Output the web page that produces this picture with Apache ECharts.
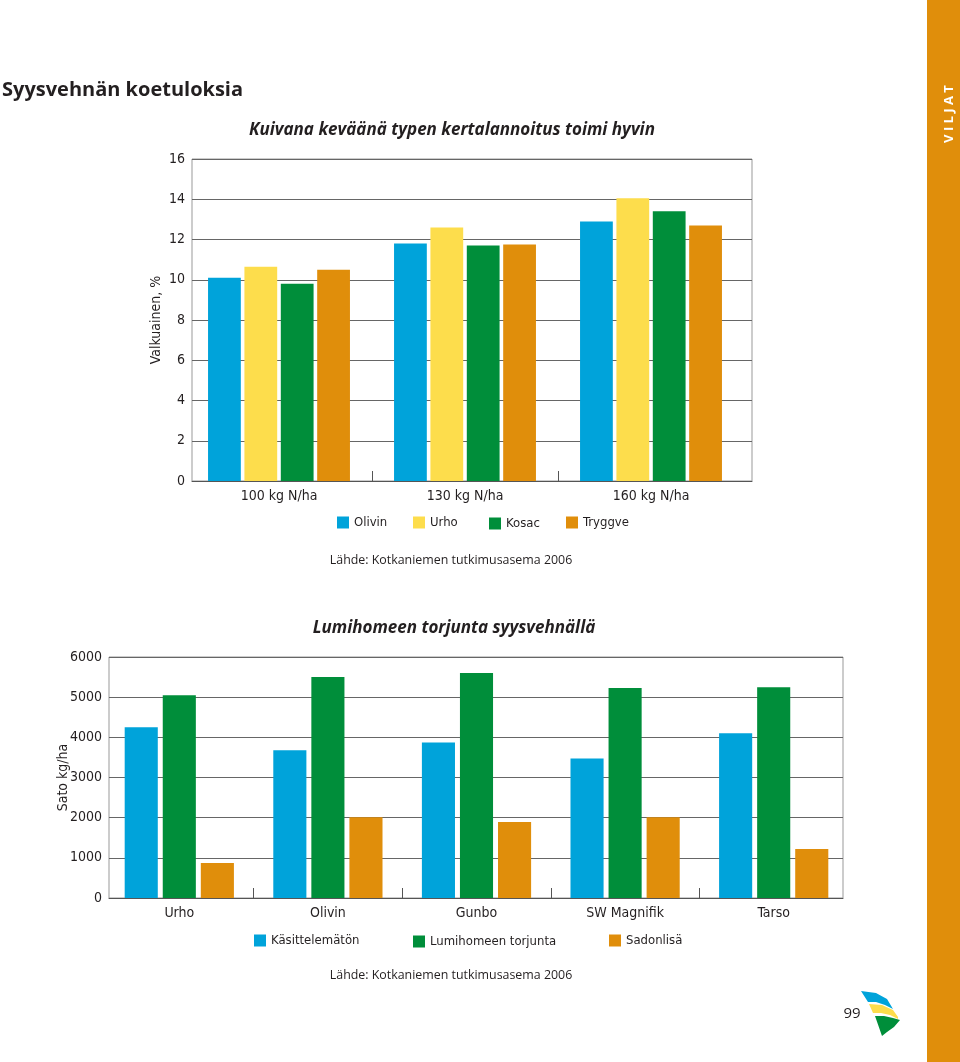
<!DOCTYPE html>
<html>
<head>
<meta charset="utf-8">
<script src="https://cdn.jsdelivr.net/npm/echarts@6/dist/echarts.min.js"></script>
<style>
html,body{margin:0;padding:0;background:#fff;}
#c{width:960px;height:1062px;}
</style>
</head>
<body>
<div id="c"></div>
<script>
// ---- Data ----
const topCategories = ['100 kg N/ha', '130 kg N/ha', '160 kg N/ha'];
const olivin  = [10.1, 11.8, 12.9];
const urho    = [10.65, 12.6, 14.05];
const kosac   = [9.8, 11.7, 13.4];
const tryggve = [10.5, 11.75, 12.7];
const topSeriesNames = ['Olivin', 'Urho', 'Kosac', 'Tryggve'];
const topYTicks = {min: 0, max: 16, interval: 2};

const bottomCategories = ['Urho', 'Olivin', 'Gunbo', 'SW Magnifik', 'Tarso'];
const kasittelematon = [4250, 3680, 3870, 3470, 4100];
const torjunta       = [5050, 5500, 5600, 5230, 5250];
const sadonlisa      = [870, 2010, 1890, 2010, 1220];
const bottomSeriesNames = ['Käsittelemätön', 'Lumihomeen torjunta', 'Sadonlisä'];
const bottomYTicks = {min: 0, max: 6000, interval: 1000};

const BLUE = '#00a3da', YELLOW = '#fddd4c', GREEN = '#008e3a', ORANGE = '#e08e0b';
const TXT = '#231f20';
const COND = "'Liberation Sans Narrow','DejaVu Sans Condensed',sans-serif";

const chart = echarts.init(document.getElementById('c'), null, {renderer: 'canvas'});

function legendItem(name, left, top) {
  return {
    data: [name], left: left, top: top, orient: 'horizontal',
    icon: 'rect', itemWidth: 12, itemHeight: 12, itemGap: 0, padding: 0,
    textStyle: {color: TXT, fontFamily: COND, fontSize: 13},
    selectedMode: false
  };
}

const axisLabelStyle = {color: TXT, fontFamily: COND, fontSize: 14};

function bar(name, data, color, xi, yi, gap, catGap) {
  return {
    name: name, type: 'bar', data: data, xAxisIndex: xi, yAxisIndex: yi,
    itemStyle: {color: color}, barGap: gap, barCategoryGap: catGap
  };
}

function frameX(gi) {
  return {type: 'value', gridIndex: gi, position: 'bottom', min: 0, max: 1,
    axisLine: {show: true, onZero: false, lineStyle: {color: '#555', width: 1}},
    axisTick: {show: false}, axisLabel: {show: false}, splitLine: {show: false}};
}
function catX(gi, data) {
  return {type: 'category', gridIndex: gi, position: 'bottom', data: data,
    axisLine: {show: false, onZero: false}, axisTick: {show: false},
    axisLabel: Object.assign({margin: 8}, axisLabelStyle)};
}
function tickX(gi, n) {
  const vals = [];
  for (let i = 1; i < n; i++) vals.push(i);
  return {type: 'value', gridIndex: gi, position: 'bottom', min: 0, max: n, interval: 1,
    axisLine: {show: false, onZero: false}, axisLabel: {show: false}, splitLine: {show: false},
    axisTick: {show: true, inside: true, length: 10, customValues: vals, lineStyle: {color: '#555'}}};
}
function frameY(gi, t, name, gap) {
  return {type: 'value', gridIndex: gi, min: t.min, max: t.max, interval: t.interval,
    name: name, nameLocation: 'middle', nameGap: gap, nameMoveOverlap: false,
    nameTextStyle: {color: TXT, fontFamily: COND, fontSize: 14},
    axisLine: {show: false}, axisTick: {show: false},
    splitLine: {lineStyle: {color: '#666', width: 1}},
    axisLabel: Object.assign({margin: 7, formatter: v => String(v)}, axisLabelStyle)};
}
function hiddenY(gi, t) {
  return {type: 'value', gridIndex: gi, min: t.min, max: t.max, show: false, splitLine: {show: false}};
}

const option = {
  animation: false,
  grid: [
    {left: 192, top: 159, width: 560, height: 322, show: true, borderColor: '#999', borderWidth: 1, backgroundColor: 'transparent'},
    {left: 186, top: 159, width: 558, height: 322},
    {left: 109, top: 657, width: 734, height: 241, show: true, borderColor: '#999', borderWidth: 1, backgroundColor: 'transparent'},
    {left: 105, top: 657, width: 743, height: 241}
  ],
  xAxis: [
    frameX(0),
    catX(1, topCategories),
    tickX(1, topCategories.length),
    frameX(2),
    catX(3, bottomCategories),
    tickX(3, bottomCategories.length)
  ],
  yAxis: [
    frameY(0, topYTicks, 'Valkuainen, %', 29),
    hiddenY(1, topYTicks),
    frameY(2, bottomYTicks, 'Sato kg/ha', 39),
    hiddenY(3, bottomYTicks)
  ],
  legend: [
    legendItem(topSeriesNames[0], 337, 516),
    legendItem(topSeriesNames[1], 413, 516),
    legendItem(topSeriesNames[2], 489, 517),
    legendItem(topSeriesNames[3], 566, 516),
    legendItem(bottomSeriesNames[0], 254, 934),
    legendItem(bottomSeriesNames[1], 413, 935),
    legendItem(bottomSeriesNames[2], 609, 934)
  ],
  series: [
    bar(topSeriesNames[0], olivin, BLUE, 1, 1, '11%', '23.7%'),
    bar(topSeriesNames[1], urho, YELLOW, 1, 1, '11%', '23.7%'),
    bar(topSeriesNames[2], kosac, GREEN, 1, 1, '11%', '23.7%'),
    bar(topSeriesNames[3], tryggve, ORANGE, 1, 1, '11%', '23.7%'),
    bar(bottomSeriesNames[0], kasittelematon, BLUE, 4, 3, '15%', '26.5%'),
    bar(bottomSeriesNames[1], torjunta, GREEN, 4, 3, '15%', '26.5%'),
    bar(bottomSeriesNames[2], sadonlisa, ORANGE, 4, 3, '15%', '26.5%')
  ],
  graphic: [
    {type: 'rect', shape: {x: 927, y: 0, width: 33, height: 1062}, style: {fill: ORANGE}, silent: true},
    {type: 'text', x: 949, y: 114, rotation: Math.PI / 2,
     style: {text: 'V I L J A T', fill: '#fff', font: "bold 13px 'Open Sans','DejaVu Sans',sans-serif", textAlign: 'center', textVerticalAlign: 'middle'}},
    {type: 'text', x: 2, y: 90,
     style: {text: 'Syysvehnän koetuloksia', fill: TXT, font: "bold 20px 'Open Sans','DejaVu Sans',sans-serif", textAlign: 'left', textVerticalAlign: 'middle'}},
    {type: 'text', x: 452, y: 130,
     style: {text: 'Kuivana keväänä typen kertalannoitus toimi hyvin', fill: TXT, font: "italic bold 17px 'Open Sans','DejaVu Sans',sans-serif", textAlign: 'center', textVerticalAlign: 'middle'}},
    {type: 'text', x: 451, y: 560,
     style: {text: 'Lähde: Kotkaniemen tutkimusasema 2006', fill: TXT, font: "12.4px 'Open Sans','DejaVu Sans',sans-serif", textAlign: 'center', textVerticalAlign: 'middle'}},
    {type: 'text', x: 454, y: 628,
     style: {text: 'Lumihomeen torjunta syysvehnällä', fill: TXT, font: "italic bold 17px 'Open Sans','DejaVu Sans',sans-serif", textAlign: 'center', textVerticalAlign: 'middle'}},
    {type: 'text', x: 451, y: 975,
     style: {text: 'Lähde: Kotkaniemen tutkimusasema 2006', fill: TXT, font: "12.4px 'Open Sans','DejaVu Sans',sans-serif", textAlign: 'center', textVerticalAlign: 'middle'}},
    {type: 'text', x: 852, y: 1014,
     style: {text: '99', fill: TXT, font: "15px 'Open Sans','DejaVu Sans',sans-serif", textAlign: 'center', textVerticalAlign: 'middle'}},
    {type: 'polygon', shape: {points: [[861,991],[876,993],[887,999],[893,1009],[885,1005],[876,1002],[868,1002]]}, style: {fill: BLUE}},
    {type: 'polygon', shape: {points: [[869,1004],[882,1005],[893,1010],[898,1017],[898,1019],[890,1015],[881,1013],[873,1013]]}, style: {fill: YELLOW}},
    {type: 'polygon', shape: {points: [[875,1016],[884,1016],[893,1018],[900,1020],[894,1027],[887,1032],[882,1036]]}, style: {fill: GREEN}}
  ]
};
chart.setOption(option);
</script>
</body>
</html>
